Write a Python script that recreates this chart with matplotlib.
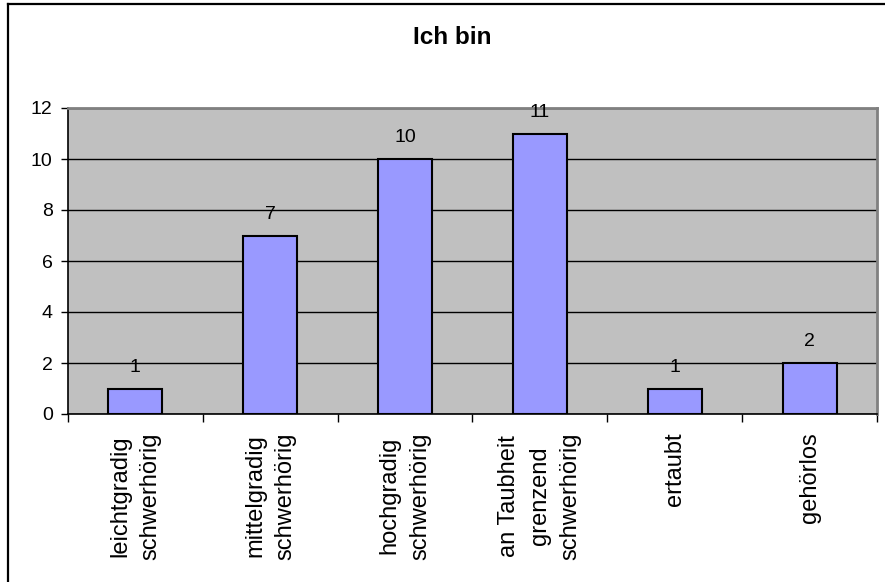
import numpy as np
import matplotlib
matplotlib.use("Agg")
import matplotlib.pyplot as plt
from matplotlib.lines import Line2D
from matplotlib.transforms import blended_transform_factory, offset_copy

plt.rcParams['font.family'] = ['Liberation Sans', 'DejaVu Sans']

title = "Ich bin"
categories = [
    "leichtgradig\nschwerhörig",
    "mittelgradig\nschwerhörig",
    "hochgradig\nschwerhörig",
    "an Taubheit\ngrenzend\nschwerhörig",
    "ertaubt",
    "gehörlos",
]
counts = [1, 7, 10, 11, 1, 2]
y_ticks = [0, 2, 4, 6, 8, 10, 12]

W, H = 885, 582
fig = plt.figure(figsize=(W / 100, H / 100), dpi=100)
fig.patch.set_facecolor("white")

# plot area in pixel coordinates of the reference
left, right, top, bottom = 68, 877, 108, 414
ax = fig.add_axes([left / W, 1 - bottom / H, (right - left) / W, (bottom - top) / H])
ax.set_facecolor("#C0C0C0")

x = np.arange(len(categories))
ax.bar(x, counts, width=0.4, color="#9999FF", edgecolor="black", linewidth=1.5, zorder=3)

for xi, v in zip(x, counts):
    ax.annotate(str(v), (xi, v), xytext=(0, 9), textcoords="offset points",
                ha="center", va="bottom", fontsize=14, zorder=4)

ax.set_xlim(-0.5, len(categories) - 0.5)
ax.set_ylim(0, 12)
ax.set_yticks(y_ticks)
ax.yaxis.grid(True, color="black", linewidth=1.0, zorder=0)
ax.set_axisbelow(True)

# ticks at category boundaries, labels drawn as text at the centres
ax.set_xticks(np.arange(len(categories) + 1) - 0.5)
ax.set_xticklabels([])
ax.tick_params(axis="x", which="major", direction="out", length=6, width=1, color="black")
ax.tick_params(axis="y", direction="out", length=5, width=1, labelsize=14, pad=6)

trans = offset_copy(blended_transform_factory(ax.transData, ax.transAxes),
                    fig=fig, x=0, y=-18, units="dots")
for xi, lab in zip(x, categories):
    ax.text(xi, 0, lab, transform=trans, rotation=90, ha="center", va="top",
            multialignment="center", linespacing=1.5, fontsize=17, clip_on=False)

for s in ("left", "bottom"):
    ax.spines[s].set_color("black")
    ax.spines[s].set_linewidth(1.2)
for s in ("top", "right"):
    ax.spines[s].set_color("#808080")
    ax.spines[s].set_linewidth(2)

fig.text(452 / W, 1 - 37 / H, title, ha="center", va="center",
         fontsize=17.5, fontweight="bold")

# outer chart border (left and top visible)
fig.add_artist(Line2D([8 / W, 8 / W], [0, 1 - 4 / H], color="black", linewidth=1.6,
                      transform=fig.transFigure))
fig.add_artist(Line2D([8 / W, 1], [1 - 4 / H, 1 - 4 / H], color="black", linewidth=1.6,
                      transform=fig.transFigure))

fig.savefig("out.png", dpi=100)
